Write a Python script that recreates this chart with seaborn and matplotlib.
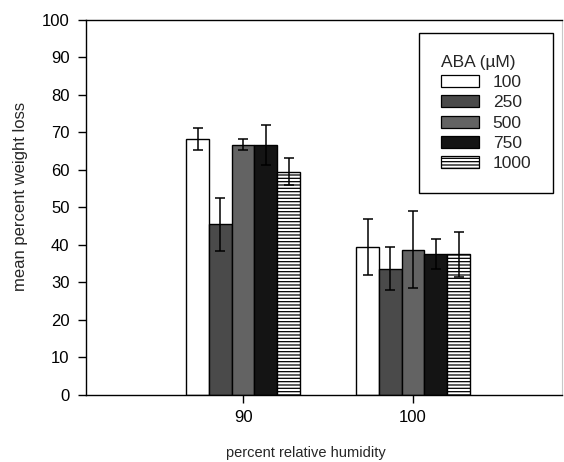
import pandas as pd
import numpy as np
import matplotlib.pyplot as plt
import seaborn as sns
from matplotlib.patches import Patch

# data
humidity = ['90', '100']
aba_levels = ['100', '250', '500', '750', '1000']
weight_loss_90 = [68.2, 45.5, 66.7, 66.7, 59.5]
weight_loss_100 = [39.5, 33.7, 38.7, 37.6, 37.5]
err_90 = [2.9, 7.0, 1.5, 5.3, 3.6]
err_100 = [7.5, 5.8, 10.3, 4.0, 6.0]

df = pd.DataFrame({
    'humidity': np.repeat(humidity, len(aba_levels)),
    'aba': aba_levels * len(humidity),
    'loss': weight_loss_90 + weight_loss_100,
    'err': err_90 + err_100,
})

sns.set_style('ticks')
plt.rcParams['font.family'] = ['Liberation Sans', 'DejaVu Sans']
plt.rcParams['hatch.linewidth'] = 0.9

# fill styles imitating the stippled print
styles = {
    '100': dict(facecolor='white', hatch=''),
    '250': dict(facecolor='#4a4a4a', hatch=''),
    '500': dict(facecolor='#636363', hatch=''),
    '750': dict(facecolor='#141414', hatch=''),
    '1000': dict(facecolor='white', hatch='-----'),
}

fig = plt.figure(figsize=(5.64, 4.62), dpi=100)
ax = fig.add_axes([0.1525, 0.145, 0.844, 0.812])

sns.barplot(data=df, x='humidity', y='loss', hue='aba', order=humidity,
            hue_order=aba_levels, width=0.67, errorbar=None, legend=False,
            palette=['white'] * 5, edgecolor='black', linewidth=1.0, ax=ax)

for lvl, cont in zip(aba_levels, ax.containers):
    sub = df[df['aba'] == lvl].set_index('humidity').loc[humidity]
    xs = []
    for bar in cont:
        bar.set_facecolor(styles[lvl]['facecolor'])
        bar.set_hatch(styles[lvl]['hatch'])
        bar.set_edgecolor('black')
        xs.append(bar.get_x() + bar.get_width() / 2)
    ax.errorbar(xs, sub['loss'], yerr=sub['err'], fmt='none', ecolor='black',
                elinewidth=1.1, capsize=3.6, capthick=1.1, zorder=5)

ax.set_xlim(-0.924, 1.876)
ax.set_ylim(0, 100)
ax.set_yticks(range(0, 101, 10))
ax.tick_params(axis='both', labelsize=12, length=5.8, width=1.0,
               direction='out', pad=6, colors='black')
ax.tick_params(axis='x', pad=5)
ax.tick_params(top=False, right=False)
for s in ['left', 'bottom', 'top']:
    ax.spines[s].set_color('black')
    ax.spines[s].set_linewidth(1.0)
ax.spines['right'].set_color('#c8c8c8')
ax.spines['right'].set_linewidth(0.8)

ax.set_ylabel('mean percent weight loss', fontsize=12)
ax.yaxis.set_label_coords(-0.122, 0.53)
ax.set_xlabel('percent relative humidity', fontsize=10.5)
ax.xaxis.set_label_coords(0.462, -0.135)

handles = [Patch(facecolor=styles[l]['facecolor'], hatch=styles[l]['hatch'],
                 edgecolor='black', linewidth=0.9, label=l) for l in aba_levels]
leg = ax.legend(handles=handles, title='ABA (\u00b5M)', loc='upper right',
                bbox_to_anchor=(0.9805, 0.9286), bbox_transform=fig.transFigure,
                borderaxespad=0, fancybox=False, framealpha=1, edgecolor='black',
                fontsize=12.5, title_fontsize=12.5, handlelength=2.2,
                handleheight=0.7, labelspacing=0.3, handletextpad=0.8,
                borderpad=1.25)
leg._legend_box.align = 'left'
leg.get_frame().set_linewidth(1.0)

fig.savefig('out.png', dpi=100)
